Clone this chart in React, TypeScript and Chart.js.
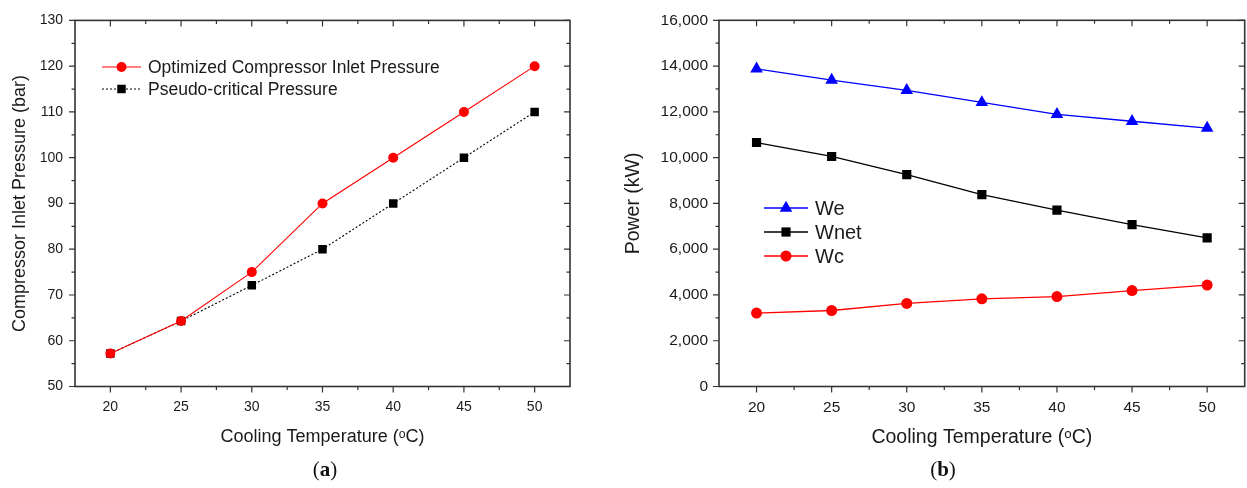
import React, { useEffect, useRef } from 'react';
import { Chart, registerables } from 'chart.js';

Chart.register(...registerables);

// ---------- data ----------
const temperatures = [20, 25, 30, 35, 40, 45, 50];
const optimizedPressure = [57.2, 64.3, 75, 90, 100, 110, 120];
const pseudoCriticalPressure = [57.2, 64.3, 72.1, 80, 90, 100, 110];
const powerWe = [13880, 13390, 12940, 12410, 11890, 11590, 11290];
const powerWnet = [10660, 10050, 9260, 8380, 7710, 7070, 6490];
const powerWc = [3210, 3320, 3630, 3830, 3930, 4190, 4430];

const temperatureTicks = [20, 25, 30, 35, 40, 45, 50];
const pressureTicks = [50, 60, 70, 80, 90, 100, 110, 120, 130];
const powerTicks = [0, 2000, 4000, 6000, 8000, 10000, 12000, 14000, 16000];

const FONT = "'Liberation Sans', Arial, sans-serif";
const TEXT = '#1a1a1a';

const pts = (ys: number[]) => temperatures.map((x, i) => ({ x, y: ys[i] }));
const mids = (arr: number[]) => arr.slice(1).map((v, i) => (v + arr[i]) / 2);

function drawMarker(ctx: CanvasRenderingContext2D, style: string, x: number, y: number, r: number, color: string) {
  ctx.fillStyle = color;
  ctx.beginPath();
  if (style === 'rect') {
    const s = r * Math.SQRT1_2;
    ctx.rect(x - s, y - s, 2 * s, 2 * s);
  } else if (style === 'triangle') {
    ctx.moveTo(x, y - r);
    ctx.lineTo(x + 0.866 * r, y + 0.5 * r);
    ctx.lineTo(x - 0.866 * r, y + 0.5 * r);
    ctx.closePath();
  } else {
    ctx.arc(x, y, r, 0, Math.PI * 2);
  }
  ctx.fill();
}

const framePlugin = {
  id: 'originFrame',
  afterDraw(chart: any, _args: any, opts: any) {
    const { ctx, chartArea } = chart;
    const { left, right, top, bottom } = chartArea;
    const xs = chart.scales.x;
    const ys = chart.scales.y;
    const xMaj: number[] = opts.xMajor;
    const yMaj: number[] = opts.yMajor;
    const xMin = mids(xMaj);
    const yMin = mids(yMaj);
    ctx.save();
    ctx.strokeStyle = '#333';
    ctx.lineWidth = 1.2;
    const major = 6;
    const minor = 3.5;
    ctx.beginPath();
    const xt = (v: number, len: number) => {
      const px = xs.getPixelForValue(v);
      ctx.moveTo(px, bottom);
      ctx.lineTo(px, bottom + len);
      ctx.moveTo(px, top);
      ctx.lineTo(px, top + len);
    };
    const yt = (v: number, len: number) => {
      const py = ys.getPixelForValue(v);
      ctx.moveTo(left, py);
      ctx.lineTo(left - len, py);
      ctx.moveTo(right, py);
      ctx.lineTo(right - len, py);
    };
    xMaj.forEach((v) => xt(v, major));
    xMin.forEach((v) => xt(v, minor));
    yMaj.forEach((v) => yt(v, major));
    yMin.forEach((v) => yt(v, minor));
    ctx.stroke();
    ctx.lineWidth = 1.6;
    ctx.strokeRect(left, top, right - left, bottom - top);
    ctx.restore();
  },
};

const legendPlugin = {
  id: 'lineLegend',
  afterDraw(chart: any, _args: any, opts: any) {
    const { ctx } = chart;
    ctx.save();
    chart.data.datasets.forEach((ds: any, i: number) => {
      const y = opts.rows[i];
      ctx.strokeStyle = ds.borderColor;
      ctx.lineWidth = ds.borderWidth;
      ctx.setLineDash(ds.borderDash || []);
      ctx.beginPath();
      ctx.moveTo(opts.x0, y);
      ctx.lineTo(opts.x1, y);
      ctx.stroke();
      ctx.setLineDash([]);
      drawMarker(ctx, ds.pointStyle, (opts.x0 + opts.x1) / 2, y, ds.pointRadius, ds.pointBackgroundColor);
      ctx.fillStyle = TEXT;
      ctx.font = `${opts.fontSize}px ${FONT}`;
      ctx.textBaseline = 'middle';
      ctx.textAlign = 'left';
      ctx.fillText(ds.label, opts.textX, y + 1);
    });
    ctx.restore();
  },
};

function series(label: string, data: number[], color: string, style: string, radius: number, width: number, dash?: number[]) {
  return {
    label,
    data: pts(data),
    borderColor: color,
    backgroundColor: color,
    pointBackgroundColor: color,
    pointBorderColor: color,
    pointBorderWidth: 0,
    pointStyle: style,
    pointRadius: radius,
    borderWidth: width,
    borderDash: dash,
    fill: false,
    tension: 0,
  };
}

function buildOptions(p: any) {
  return {
    responsive: true,
    maintainAspectRatio: false,
    animation: false,
    events: [],
    layout: { padding: { top: 19, right: p.padRight, left: 0, bottom: 0 } },
    plugins: {
      legend: { display: false },
      tooltip: { enabled: false },
      originFrame: { xMajor: temperatureTicks, yMajor: p.yTicks },
      lineLegend: p.legend,
    },
    scales: {
      x: {
        type: 'linear',
        min: 17.5,
        max: 52.5,
        afterBuildTicks: (s: any) => {
          s.ticks = temperatureTicks.map((value) => ({ value }));
        },
        afterFit: (s: any) => {
          s.height = 73.5;
        },
        grid: { display: false, drawTicks: false },
        border: { display: false },
        ticks: { color: TEXT, font: { family: FONT, size: p.tickSize }, padding: 12, maxRotation: 0, autoSkip: false },
        title: {
          display: true,
          text: 'Cooling Temperature (ᵒC)',
          color: TEXT,
          font: { family: FONT, size: p.titleSize },
          padding: { top: 0, bottom: p.xTitlePad },
        },
      },
      y: {
        type: 'linear',
        min: p.yTicks[0],
        max: p.yTicks[p.yTicks.length - 1],
        afterBuildTicks: (s: any) => {
          s.ticks = p.yTicks.map((value: number) => ({ value }));
        },
        afterFit: (s: any) => {
          s.width = p.yWidth;
        },
        grid: { display: false, drawTicks: false },
        border: { display: false },
        ticks: {
          color: TEXT,
          font: { family: FONT, size: p.tickSize },
          padding: p.yTickPad,
          callback: (v: number) => (p.comma ? v.toLocaleString('en-US') : String(v)),
        },
        title: {
          display: true,
          text: p.yTitle,
          color: TEXT,
          font: { family: FONT, size: p.titleSize },
          padding: { top: p.yTitlePad, bottom: 0 },
        },
      },
    },
  };
}

function ChartPanel({ config, style }: { config: any; style: React.CSSProperties }) {
  const ref = useRef<HTMLCanvasElement | null>(null);
  useEffect(() => {
    if (!ref.current) return;
    const chart = new Chart(ref.current, config);
    return () => chart.destroy();
  }, []);
  return (
    <div style={{ position: 'absolute', ...style }}>
      <canvas ref={ref} />
    </div>
  );
}

const leftConfig = {
  type: 'line',
  data: {
    datasets: [
      series('Optimized Compressor Inlet Pressure', optimizedPressure, '#ff0000', 'circle', 5, 1.1),
      series('Pseudo-critical Pressure', pseudoCriticalPressure, '#000000', 'rect', 6, 1.1, [2, 2]),
    ],
  },
  options: buildOptions({
    padRight: 30,
    yTicks: pressureTicks,
    yWidth: 75,
    yTickPad: 12,
    yTitle: 'Compressor Inlet Pressure (bar)',
    yTitlePad: 9,
    xTitlePad: 12,
    tickSize: 14,
    titleSize: 18,
    comma: false,
    legend: { x0: 102, x1: 141, textX: 148, rows: [67, 89], fontSize: 17.5 },
  }),
  plugins: [framePlugin, legendPlugin],
};

const rightConfig = {
  type: 'line',
  data: {
    datasets: [
      series('We', powerWe, '#0000ff', 'triangle', 7.3, 1.3),
      series('Wnet', powerWnet, '#000000', 'rect', 6.5, 1.3),
      series('Wc', powerWc, '#ff0000', 'circle', 5.5, 1.3),
    ],
  },
  options: buildOptions({
    padRight: 2,
    yTicks: powerTicks,
    yWidth: 119,
    yTickPad: 11,
    yTitle: 'Power (kW)',
    yTitlePad: 22,
    xTitlePad: 11,
    tickSize: 15.5,
    titleSize: 19.5,
    comma: true,
    legend: { x0: 164, x1: 208, textX: 215, rows: [208, 232, 256], fontSize: 20 },
  }),
  plugins: [framePlugin, legendPlugin],
};

const captionStyle: React.CSSProperties = {
  position: 'absolute',
  top: 457,
  fontFamily: "'Liberation Serif', 'DejaVu Serif', serif",
  fontSize: 21,
  color: '#111',
  transform: 'translateX(-50%)',
  whiteSpace: 'nowrap',
};

export default function App() {
  return (
    <div style={{ position: 'absolute', left: 0, top: 0, width: 1247, height: 488, background: '#fff', overflow: 'hidden' }}>
      <ChartPanel config={leftConfig} style={{ left: 0, top: 0, width: 600, height: 460 }} />
      <ChartPanel config={rightConfig} style={{ left: 600, top: 0, width: 652, height: 460 }} />
      <div style={{ ...captionStyle, left: 325 }}>
        (<b>a</b>)
      </div>
      <div style={{ ...captionStyle, left: 943 }}>
        (<b>b</b>)
      </div>
    </div>
  );
}
